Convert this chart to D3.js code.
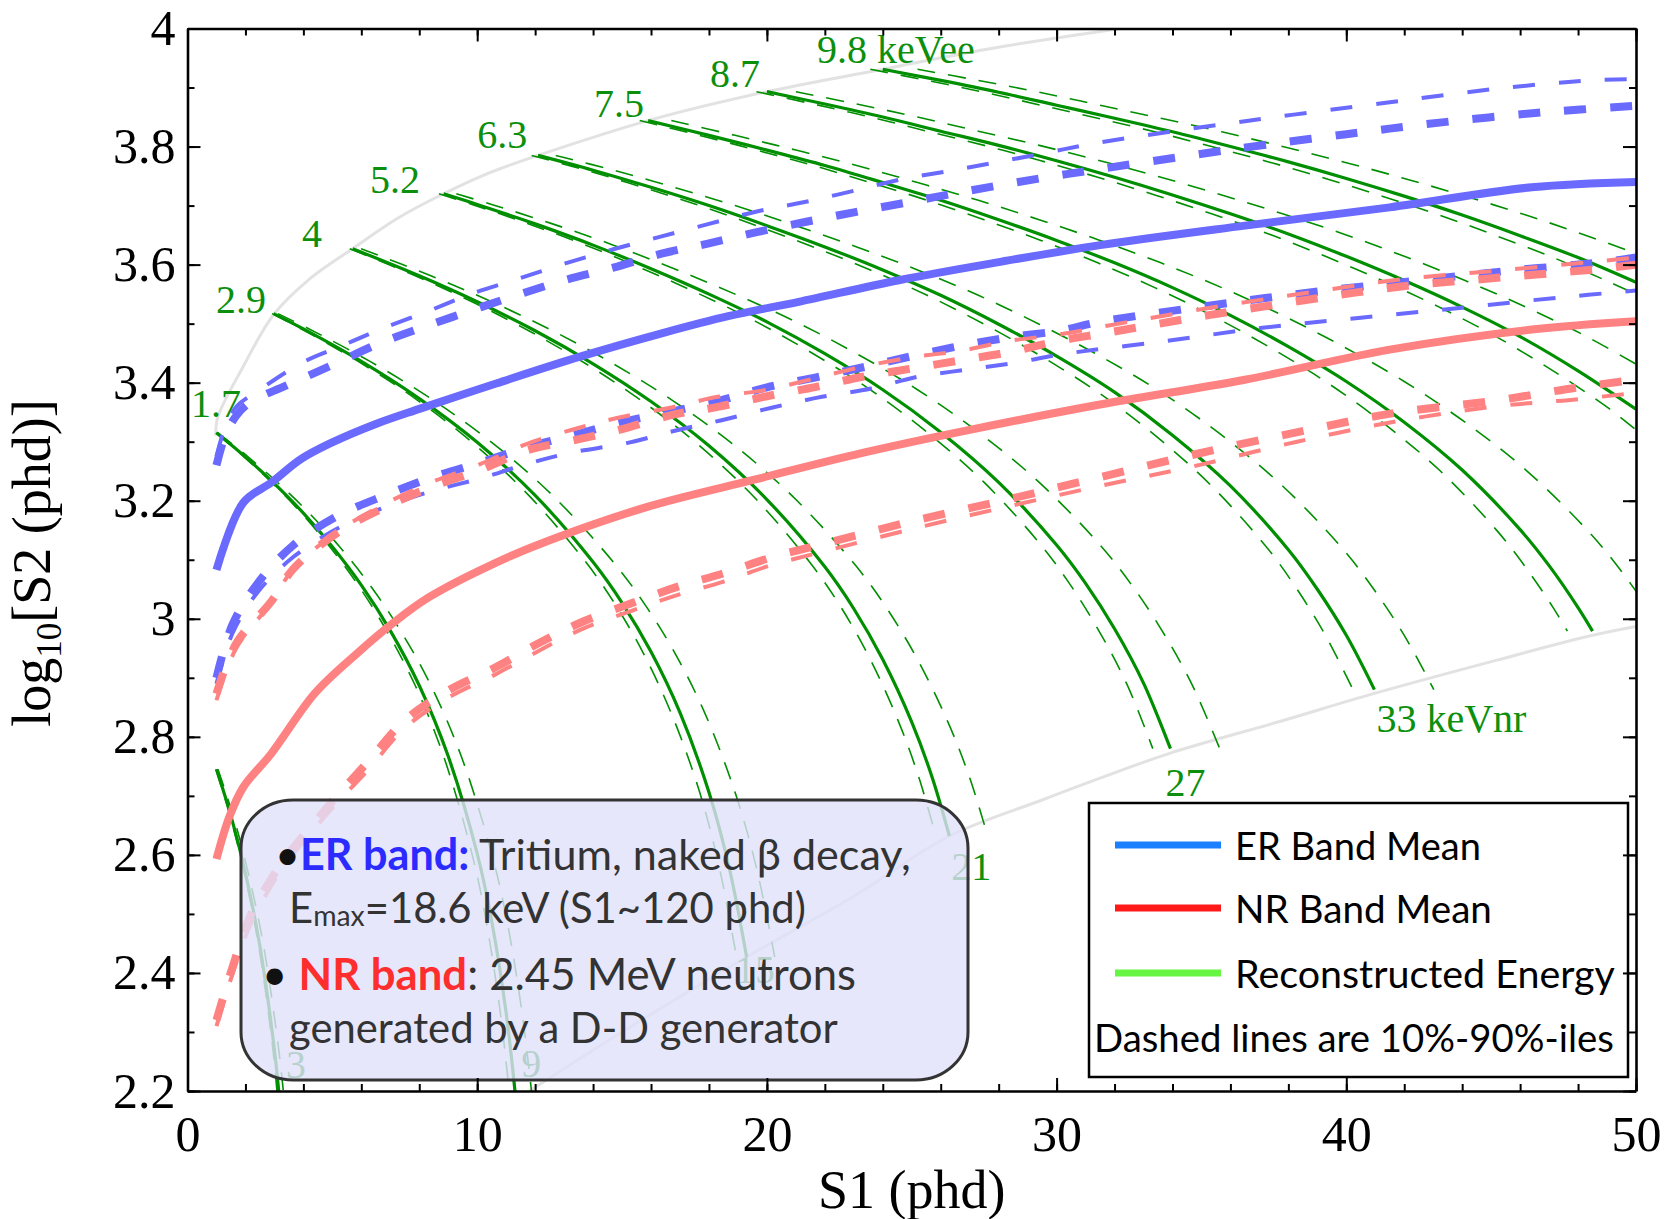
<!DOCTYPE html>
<html>
<head>
<meta charset="utf-8">
<script src="https://cdn.jsdelivr.net/npm/d3@7"></script>
<style>
  body { margin: 0; background: #fff; }
  svg { display: block; }
</style>
</head>
<body>
<svg id="chart" width="1665" height="1219"></svg>
<script>
// ---- axis ticks ----
const s1Ticks = [0, 10, 20, 30, 40, 50];
const s2Ticks = [2.2, 2.4, 2.6, 2.8, 3, 3.2, 3.4, 3.6, 3.8, 4];

// ---- band means, points are [S1 phd, log10 S2] ----
const erMean = [[1.0,3.083],[1.93,3.197],[2.9,3.231],[3.9,3.27],[4.92,3.297],[6.5,3.33],[8.03,3.356],[10.68,3.399],[13.55,3.444],[16.4,3.484],[18.7,3.513],[21.1,3.537],[24.6,3.574],[28.1,3.605],[31.5,3.633],[36.5,3.666],[41.5,3.697],[46.4,3.731],[50,3.74]];
const nrMean = [[1.0,2.593],[1.44,2.664],[1.93,2.715],[2.9,2.772],[4.4,2.874],[5.87,2.942],[7.1,2.993],[8.35,3.037],[10.6,3.094],[12.5,3.133],[15.9,3.19],[19.6,3.236],[23.3,3.281],[27,3.32],[31.5,3.363],[36.5,3.405],[41.5,3.456],[46.4,3.49],[50,3.504]];

// ---- 10% / 90% band edges (two estimates each: A thick, B thin) ----
const erUpperA = [[1.0,3.26],[1.3,3.31],[1.7,3.345],[2.2,3.368],[3.4,3.395],[5.0,3.43],[6.55,3.465],[8.14,3.494],[9.78,3.522],[11.42,3.549],[13.04,3.574],[14.7,3.595],[16.4,3.619],[18,3.636],[19.65,3.655],[21.4,3.673],[23.05,3.689],[24.7,3.704],[26.4,3.72],[28.1,3.735],[29.8,3.749],[31.5,3.762],[34.9,3.787],[36.6,3.799],[40,3.821],[43.3,3.841],[46.8,3.858],[50,3.869]];
const erUpperB = [[1.0,3.275],[1.3,3.325],[1.7,3.36],[2.4,3.385],[4.0,3.435],[5.3,3.462],[6.59,3.489],[8.2,3.519],[9.78,3.55],[11.42,3.576],[13.04,3.602],[14.7,3.626],[16.3,3.647],[18,3.669],[19.65,3.69],[21.3,3.706],[23,3.725],[24.7,3.745],[26.35,3.759],[28,3.774],[29.7,3.79],[31.5,3.807],[36.5,3.843],[41.5,3.875],[45.2,3.898],[48.4,3.912],[50,3.914]];
const erLowerA = [[1.0,2.9],[1.55,2.99],[2.42,3.06],[3.66,3.125],[5.25,3.176],[6.87,3.21],[8.35,3.238],[10.2,3.266],[11.7,3.29],[13.4,3.312],[15.0,3.333],[16.7,3.351],[18.4,3.37],[20,3.392],[21.7,3.409],[23.4,3.427],[25.1,3.446],[26.75,3.463],[28.4,3.477],[30.1,3.488],[31.5,3.503],[35.2,3.53],[38.6,3.552],[42.1,3.571],[45.5,3.589],[48.8,3.604],[50,3.612]];
const erLowerB = [[1.0,2.89],[1.55,2.975],[2.42,3.045],[3.66,3.105],[5.25,3.155],[6.87,3.19],[8.35,3.215],[10.2,3.239],[11.7,3.262],[13.2,3.281],[15.2,3.298],[16.86,3.319],[18.4,3.336],[20.2,3.358],[21.9,3.376],[23.6,3.39],[25.2,3.41],[26.9,3.422],[28.6,3.434],[30.3,3.449],[33.7,3.47],[37.1,3.493],[40.5,3.51],[44,3.527],[47.3,3.544],[50,3.556]];
const nrUpperA = [[1.0,2.873],[1.68,2.958],[2.9,3.03],[3.66,3.085],[5.25,3.148],[6.87,3.19],[8.35,3.222],[10.1,3.252],[11.7,3.285],[13.4,3.303],[14.9,3.32],[16.7,3.345],[18.3,3.359],[20,3.377],[21.7,3.393],[23.3,3.41],[25,3.424],[26.7,3.438],[28.4,3.452],[30,3.47],[31.8,3.485],[35.2,3.514],[38.6,3.54],[41.9,3.563],[45.3,3.578],[48.8,3.593],[50,3.6]];
const nrUpperB = [[1.0,2.862],[1.68,2.95],[2.9,3.028],[3.66,3.085],[5.25,3.15],[6.87,3.196],[8.35,3.23],[10.1,3.262],[11.7,3.296],[13.4,3.322],[14.9,3.341],[16.7,3.358],[18.3,3.376],[20,3.388],[21.7,3.408],[23.3,3.427],[25,3.443],[26.7,3.454],[28.4,3.471],[30,3.481],[31.8,3.497],[35.2,3.526],[38.6,3.552],[41.9,3.575],[45.3,3.59],[48.8,3.606],[50,3.612]];
const nrLowerA = [[1.0,2.32],[1.6,2.417],[2.2,2.5],[2.86,2.557],[3.4,2.596],[4.83,2.681],[6.25,2.759],[7.5,2.828],[8.95,2.877],[10.6,2.917],[12.1,2.958],[13.5,2.992],[15.3,3.026],[16.9,3.054],[18.5,3.077],[20.1,3.103],[21.8,3.125],[25,3.165],[28.3,3.202],[31.5,3.24],[34.9,3.28],[38.4,3.317],[41.7,3.349],[45.2,3.37],[48,3.392],[50,3.405]];
const nrLowerB = [[1.0,2.31],[1.6,2.405],[2.2,2.485],[2.86,2.545],[3.4,2.585],[4.83,2.67],[6.25,2.745],[7.5,2.815],[8.95,2.865],[10.6,2.905],[12.1,2.945],[13.5,2.98],[15.3,3.013],[16.9,3.04],[18.5,3.063],[20.1,3.09],[21.8,3.112],[25,3.152],[28.3,3.19],[31.5,3.225],[34.7,3.258],[38.3,3.3],[41.8,3.335],[45.2,3.36],[48,3.372],[50,3.383]];

// ---- grey edges of the populated region ----
const edgeTop = [[0.97,3.31],[1.05,3.342],[1.92,3.427],[2.97,3.515],[4.2,3.575],[5.7,3.627],[7.2,3.677],[8.84,3.72],[10.5,3.757],[12.1,3.785],[15.9,3.844],[20,3.893],[24,3.931],[27.6,3.965],[31.5,3.995],[33,4.005]];
const edgeBottom = [[11.8,2.2],[15,2.3],[19.3,2.427],[23,2.53],[26.3,2.632],[29.5,2.693],[31.5,2.73],[33.9,2.772],[37.7,2.826],[41,2.874],[45.2,2.93],[48.5,2.972],[50,2.987]];

// ---- reconstructed energy contours (solid) and their 10% / 90% lines ----
const recoE0 = [[1.0,2.745],[1.5,2.666],[2.0,2.569],[2.5,2.445],[3.0,2.27],[3.15,2.199]];
const recoE0lo = [[0.98,2.745],[1.47,2.666],[1.96,2.569],[2.46,2.445],[2.95,2.27],[3.09,2.199]];
const recoE0hi = [[1.05,2.745],[1.58,2.666],[2.1,2.569],[2.63,2.445],[3.15,2.27],[3.31,2.199]];

const recoE17 = [[1,3.315],[2,3.274],[3,3.229],[4,3.179],[5,3.122],[6,3.057],[7,2.98],[8,2.887],[9,2.767],[10,2.602],[10.5,2.488],[11,2.332],[11.31,2.197]];
const recoE17lo = [[0.98,3.315],[1.96,3.274],[2.95,3.229],[3.93,3.179],[4.91,3.122],[5.89,3.057],[6.87,2.98],[7.86,2.887],[8.84,2.767],[9.82,2.602],[10.31,2.488],[10.8,2.332],[11.11,2.197]];
const recoE17hi = [[1.05,3.315],[2.1,3.274],[3.15,3.229],[4.2,3.179],[5.25,3.122],[6.3,3.057],[7.35,2.98],[8.4,2.887],[9.45,2.767],[10.5,2.602],[11.03,2.488],[11.55,2.332],[11.88,2.197]];

const recoE29 = [[2.97,3.517],[4,3.491],[6,3.436],[8,3.373],[10,3.299],[12,3.209],[14,3.096],[15,3.027],[16,2.944],[17,2.841],[18,2.706],[18.7,2.578],[19.3,2.427]];
const recoE29lo = [[2.92,3.517],[3.93,3.491],[5.89,3.436],[7.86,3.373],[9.82,3.299],[11.78,3.209],[13.75,3.096],[14.73,3.027],[15.71,2.944],[16.69,2.841],[17.68,2.706],[18.36,2.578],[18.95,2.427]];
const recoE29hi = [[3.12,3.517],[4.2,3.491],[6.3,3.436],[8.4,3.373],[10.5,3.299],[12.6,3.209],[14.7,3.096],[15.75,3.027],[16.8,2.944],[17.85,2.841],[18.9,2.706],[19.64,2.578],[20.27,2.427]];

const recoE40 = [[5.7,3.627],[8,3.581],[10,3.537],[12,3.488],[14,3.432],[16,3.368],[18,3.293],[20,3.202],[22,3.088],[23,3.017],[24,2.931],[25,2.825],[25.7,2.732],[26.3,2.632]];
const recoE40lo = [[5.6,3.627],[7.86,3.581],[9.82,3.537],[11.78,3.488],[13.75,3.432],[15.71,3.368],[17.68,3.293],[19.64,3.202],[21.6,3.088],[22.59,3.017],[23.57,2.931],[24.55,2.825],[25.24,2.732],[25.83,2.632]];
const recoE40hi = [[5.99,3.627],[8.4,3.581],[10.5,3.537],[12.6,3.488],[14.7,3.432],[16.8,3.368],[18.9,3.293],[21,3.202],[23.1,3.088],[24.15,3.017],[25.2,2.931],[26.25,2.825],[26.99,2.732],[27.62,2.632]];

const recoE52 = [[8.84,3.72],[10,3.702],[12,3.669],[14,3.633],[16,3.593],[18,3.55],[20,3.503],[22,3.449],[24,3.388],[26,3.316],[28,3.231],[30,3.125],[31,3.06],[32,2.983],[33,2.891],[33.93,2.78]];
const recoE52lo = [[8.68,3.72],[9.82,3.702],[11.78,3.669],[13.75,3.633],[15.71,3.593],[17.68,3.55],[19.64,3.503],[21.6,3.449],[23.57,3.388],[25.53,3.316],[27.5,3.231],[29.46,3.125],[30.44,3.06],[31.42,2.983],[32.41,2.891],[33.32,2.78]];
const recoE52hi = [[9.28,3.72],[10.5,3.702],[12.6,3.669],[14.7,3.633],[16.8,3.593],[18.9,3.55],[21,3.503],[23.1,3.449],[25.2,3.388],[27.3,3.316],[29.4,3.231],[31.5,3.125],[32.55,3.06],[33.6,2.983],[34.65,2.891],[35.63,2.78]];

const recoE63 = [[12.1,3.785],[14,3.76],[16,3.731],[18,3.7],[20,3.666],[22,3.63],[24,3.591],[26,3.548],[28,3.499],[30,3.445],[32,3.384],[34,3.311],[36,3.225],[38,3.117],[39,3.05],[40,2.972],[40.97,2.88]];
const recoE63lo = [[11.88,3.785],[13.75,3.76],[15.71,3.731],[17.68,3.7],[19.64,3.666],[21.6,3.63],[23.57,3.591],[25.53,3.548],[27.5,3.499],[29.46,3.445],[31.42,3.384],[33.39,3.311],[35.35,3.225],[37.32,3.117],[38.3,3.05],[39.28,2.972],[40.23,2.88]];
const recoE63hi = [[12.71,3.785],[14.7,3.76],[16.8,3.731],[18.9,3.7],[21,3.666],[23.1,3.63],[25.2,3.591],[27.3,3.548],[29.4,3.499],[31.5,3.445],[33.6,3.384],[35.7,3.311],[37.8,3.225],[39.9,3.117],[40.95,3.05],[42,2.972],[43.02,2.88]];

const recoE75 = [[15.9,3.844],[18,3.819],[20,3.794],[22,3.768],[24,3.739],[26,3.709],[28,3.676],[30,3.641],[32,3.603],[34,3.561],[36,3.514],[38,3.461],[40,3.402],[42,3.333],[44,3.252],[46,3.151],[47,3.09],[48,3.019],[48.5,2.979]];
const recoE75lo = [[15.61,3.844],[17.68,3.819],[19.64,3.794],[21.6,3.768],[23.57,3.739],[25.53,3.709],[27.5,3.676],[29.46,3.641],[31.42,3.603],[33.39,3.561],[35.35,3.514],[37.32,3.461],[39.28,3.402],[41.24,3.333],[43.21,3.252],[45.17,3.151],[46.15,3.09],[47.14,3.019],[47.63,2.979]];
const recoE75hi = [[16.7,3.844],[18.9,3.819],[21,3.794],[23.1,3.768],[25.2,3.739],[27.3,3.709],[29.4,3.676],[31.5,3.641],[33.6,3.603],[35.7,3.561],[37.8,3.514],[39.9,3.461],[42,3.402],[44.1,3.333],[46.2,3.252],[48.3,3.151],[49.35,3.09],[50.4,3.019]];

const recoE87 = [[20,3.893],[22,3.872],[24,3.85],[26,3.826],[28,3.802],[30,3.776],[32,3.748],[34,3.718],[36,3.686],[38,3.652],[40,3.614],[42,3.573],[44,3.528],[46,3.478],[48,3.42],[50,3.355]];
const recoE87lo = [[19.64,3.893],[21.6,3.872],[23.57,3.85],[25.53,3.826],[27.5,3.802],[29.46,3.776],[31.42,3.748],[33.39,3.718],[35.35,3.686],[37.32,3.652],[39.28,3.614],[41.24,3.573],[43.21,3.528],[45.17,3.478],[47.14,3.42],[49.1,3.355],[50,3.32]];
const recoE87hi = [[21,3.893],[23.1,3.872],[25.2,3.85],[27.3,3.826],[29.4,3.802],[31.5,3.776],[33.6,3.748],[35.7,3.718],[37.8,3.686],[39.9,3.652],[42,3.614],[44.1,3.573],[46.2,3.528],[48.3,3.478],[50.4,3.42]];

const recoE98 = [[24,3.931],[26,3.912],[28,3.892],[30,3.87],[32,3.848],[34,3.825],[36,3.8],[38,3.774],[40,3.746],[42,3.716],[44,3.684],[46,3.649],[48,3.612],[50,3.57]];
const recoE98lo = [[23.57,3.931],[25.53,3.912],[27.5,3.892],[29.46,3.87],[31.42,3.848],[33.39,3.825],[35.35,3.8],[37.32,3.774],[39.28,3.746],[41.24,3.716],[43.21,3.684],[45.17,3.649],[47.14,3.612],[49.1,3.57],[50,3.55]];
const recoE98hi = [[25.2,3.931],[27.3,3.912],[29.4,3.892],[31.5,3.87],[33.6,3.848],[35.7,3.825],[37.8,3.8],[39.9,3.774],[42,3.746],[44.1,3.716],[46.2,3.684],[48.3,3.649],[50.4,3.612]];

// ---- texts ----
const erEnergyLabels = ["1.7", "2.9", "4", "5.2", "6.3", "7.5", "8.7", "9.8 keVee"];
const nrEnergyLabels = ["3", "9", "15", "21", "27", "33 keVnr"];
const legendLabels = ["ER Band Mean", "NR Band Mean", "Reconstructed Energy"];
const legendNote = "Dashed lines are 10%-90%-iles";

// ---- layout (label anchors in data units) ----
const erLabelAt = [[0.12,3.342],[0.98,3.518],[3.95,3.63],[6.3,3.721],[10.0,3.798],[14.03,3.85],[18.04,3.901],[21.73,3.942]];
const nrLabelAt = [[3.4,2.222],[11.52,2.224],[18.9,2.383],[26.36,2.558],[33.76,2.699],[41.04,2.808]];

const svg = d3.select("#chart");
const frame = {left: 187.5, right: 1636, top: 28.5, bottom: 1091};

const x = d3.scaleLinear().domain([0, 50]).range([frame.left, frame.right]);
const y = d3.scaleLinear().domain([2.2, 4]).range([frame.bottom, frame.top]);

const line = d3.line()
    .x(d => x(d[0]))
    .y(d => y(d[1]))
    .curve(d3.curveCatmullRom.alpha(0.5));

const BLUE = "#6a6aff";
const RED = "#ff8282";
const GREEN = "#008f00";
const SERIF = "'Liberation Serif', 'Times New Roman', serif";
const SANS = "Lato, 'Open Sans', 'DejaVu Sans', sans-serif";

svg.append("defs").append("clipPath").attr("id", "plot-clip")
    .append("rect")
        .attr("x", frame.left).attr("y", frame.top)
        .attr("width", frame.right - frame.left)
        .attr("height", frame.bottom - frame.top);

const linesGroup = svg.append("g").attr("clip-path", "url(#plot-clip)");

const drawLines = (group, list, style) => {
    group.selectAll(null)
        .data(list)
        .join("path")
            .attr("d", line)
            .attr("fill", "none")
            .attr("stroke", style.color)
            .attr("stroke-width", style.width)
            .attr("stroke-dasharray", style.dash || null)
            .attr("stroke-linejoin", "round");
};

// grey limits
drawLines(linesGroup, [edgeTop, edgeBottom], {color: "#e2e2e2", width: 3});

// energy contours
const recoDashed = [recoE0lo, recoE0hi, recoE17lo, recoE17hi, recoE29lo, recoE29hi, recoE40lo, recoE40hi,
    recoE52lo, recoE52hi, recoE63lo, recoE63hi, recoE75lo, recoE75hi, recoE87lo, recoE87hi, recoE98lo, recoE98hi];
const recoSolid = [recoE0, recoE17, recoE29, recoE40, recoE52, recoE63, recoE75, recoE87, recoE98];
drawLines(linesGroup, recoDashed, {color: GREEN, width: 1.6, dash: "18,13"});
drawLines(linesGroup, recoSolid, {color: GREEN, width: 3.2});

// green energy labels
const labelGroup = svg.append("g")
    .attr("font-family", SERIF)
    .attr("font-size", 40)
    .attr("fill", "#0c8f0c");

labelGroup.selectAll(".er-label")
    .data(erEnergyLabels)
    .join("text")
        .attr("class", "er-label")
        .attr("x", (d, i) => x(erLabelAt[i][0]))
        .attr("y", (d, i) => y(erLabelAt[i][1]))
        .text(d => d);

labelGroup.selectAll(".nr-label")
    .data(nrEnergyLabels)
    .join("text")
        .attr("class", "nr-label")
        .attr("x", (d, i) => x(nrLabelAt[i][0]))
        .attr("y", (d, i) => y(nrLabelAt[i][1]))
        .text(d => d);

// ER band
const bandGroup = svg.append("g").attr("clip-path", "url(#plot-clip)");
drawLines(bandGroup, [erLowerB, erUpperB], {color: BLUE, width: 4, dash: "22,24"});
drawLines(bandGroup, [erLowerA, erUpperA], {color: BLUE, width: 8, dash: "22,24"});
drawLines(bandGroup, [erMean], {color: BLUE, width: 8});
// NR band
drawLines(bandGroup, [nrLowerB, nrUpperB], {color: RED, width: 4, dash: "22,24"});
drawLines(bandGroup, [nrLowerA, nrUpperA], {color: RED, width: 8, dash: "22,24"});
drawLines(bandGroup, [nrMean], {color: RED, width: 8});

// fit a text element to a measured width
const fitText = (sel, width) => {
    const w = sel.node().getComputedTextLength();
    sel.attr("font-size", +sel.attr("font-size") * width / w);
};

// annotation box
const note = svg.append("g");
note.append("rect")
    .attr("x", 241).attr("y", 800)
    .attr("width", 727).attr("height", 280)
    .attr("rx", 52).attr("ry", 48)
    .attr("fill", "#e1e1fb")
    .attr("fill-opacity", 0.8)
    .attr("stroke", "#333")
    .attr("stroke-width", 3);

const noteText = note.append("g").attr("font-family", SANS).attr("fill", "#333");

const l1 = noteText.append("text").attr("x", 275).attr("y", 870).attr("font-size", 40);
l1.append("tspan").attr("fill", "#111").text("\u2022");
l1.append("tspan").attr("font-weight", "bold").attr("fill", "#2b2bff").text("ER band:");
l1.append("tspan").text(" Tritium, naked \u03b2 decay,");
fitText(l1, 636);

const l2 = noteText.append("text").attr("x", 289).attr("y", 923).attr("font-size", 40);
l2.append("tspan").text("E");
l2.append("tspan").style("font-size", "0.68em").attr("dy", "0.12em").text("max");
l2.append("tspan").attr("dy", "-0.08em").text("=18.6 keV (S1~120 phd)");
fitText(l2, 517);

const l3 = noteText.append("text").attr("x", 262).attr("y", 990).attr("font-size", 40);
l3.append("tspan").attr("fill", "#111").text("\u2022 ");
l3.append("tspan").attr("font-weight", "bold").attr("fill", "#ff2e2e").text("NR band");
l3.append("tspan").text(": 2.45 MeV neutrons");
fitText(l3, 594);

const l4 = noteText.append("text").attr("x", 289).attr("y", 1043).attr("font-size", 40)
    .text("generated by a D-D generator");
fitText(l4, 549);

// legend
const legend = svg.append("g");
legend.append("rect")
    .attr("x", 1089).attr("y", 803)
    .attr("width", 539).attr("height", 274)
    .attr("fill", "#fff")
    .attr("stroke", "#000")
    .attr("stroke-width", 2.5);

const legendColors = ["#1a80ff", "#ff1a1a", "#66f542"];
const legendRowY = [845, 908, 973];
const legendTextWidth = [246, 257, 380];

legend.selectAll("line")
    .data(legendLabels)
    .join("line")
        .attr("x1", 1115).attr("x2", 1221)
        .attr("y1", (d, i) => legendRowY[i]).attr("y2", (d, i) => legendRowY[i])
        .attr("stroke", (d, i) => legendColors[i])
        .attr("stroke-width", 7);

legend.selectAll("text.item")
    .data(legendLabels)
    .join("text")
        .attr("class", "item")
        .attr("x", 1235)
        .attr("y", (d, i) => legendRowY[i] + 15)
        .attr("font-family", SANS)
        .attr("font-size", 38)
        .attr("fill", "#000")
        .text(d => d)
        .each(function(d, i) { fitText(d3.select(this), legendTextWidth[i]); });

const noteLine = legend.append("text")
    .attr("x", 1094).attr("y", 1052)
    .attr("font-family", SANS)
    .attr("font-size", 38)
    .attr("fill", "#000")
    .text(legendNote);
fitText(noteLine, 520);

// axes
const styleAxis = g => {
    g.attr("font-family", SERIF).attr("font-size", 50);
    g.select(".domain").attr("stroke", "#000").attr("stroke-width", 2.6);
    g.selectAll(".tick line").attr("stroke", "#000").attr("stroke-width", 2);
    g.selectAll(".tick text").attr("fill", "#000");
};
const minorOnly = g => g.select(".domain").remove();

const axes = svg.append("g");
const fmtY = d => String(+d.toFixed(1));

axes.append("g").attr("transform", `translate(0,${frame.bottom})`)
    .call(d3.axisBottom(x).ticks(25).tickSize(-7).tickFormat("")).call(minorOnly)
    .selectAll("line").attr("stroke", "#000").attr("stroke-width", 2);
axes.append("g").attr("transform", `translate(0,${frame.bottom})`)
    .call(d3.axisBottom(x).tickValues(s1Ticks).tickSize(-13).tickSizeOuter(0).tickPadding(24))
    .call(styleAxis);

axes.append("g").attr("transform", `translate(0,${frame.top})`)
    .call(d3.axisTop(x).ticks(25).tickSize(-7).tickFormat("")).call(minorOnly)
    .selectAll("line").attr("stroke", "#000").attr("stroke-width", 2);
axes.append("g").attr("transform", `translate(0,${frame.top})`)
    .call(d3.axisTop(x).tickValues(s1Ticks).tickSize(-13).tickSizeOuter(0).tickFormat(""))
    .call(styleAxis);

axes.append("g").attr("transform", `translate(${frame.left},0)`)
    .call(d3.axisLeft(y).ticks(18).tickSize(-7).tickFormat("")).call(minorOnly)
    .selectAll("line").attr("stroke", "#000").attr("stroke-width", 2);
axes.append("g").attr("transform", `translate(${frame.left},0)`)
    .call(d3.axisLeft(y).tickValues(s2Ticks).tickSize(-13).tickSizeOuter(0).tickPadding(12).tickFormat(fmtY))
    .call(styleAxis);

axes.append("g").attr("transform", `translate(${frame.right},0)`)
    .call(d3.axisRight(y).ticks(18).tickSize(-7).tickFormat("")).call(minorOnly)
    .selectAll("line").attr("stroke", "#000").attr("stroke-width", 2);
axes.append("g").attr("transform", `translate(${frame.right},0)`)
    .call(d3.axisRight(y).tickValues(s2Ticks).tickSize(-13).tickSizeOuter(0).tickFormat(""))
    .call(styleAxis);

// axis titles
svg.append("text")
    .attr("x", (frame.left + frame.right) / 2)
    .attr("y", 1208)
    .attr("text-anchor", "middle")
    .attr("font-family", SERIF)
    .attr("font-size", 54)
    .text("S1 (phd)");

const yTitle = svg.append("text")
    .attr("transform", "translate(50,563) rotate(-90)")
    .attr("text-anchor", "middle")
    .attr("font-family", SERIF)
    .attr("font-size", 54);
yTitle.append("tspan").text("log");
yTitle.append("tspan").style("font-size", "0.65em").attr("dy", "0.3em").text("10");
yTitle.append("tspan").attr("dy", "-0.2em").text("[S2 (phd)]");
</script>
</body>
</html>
